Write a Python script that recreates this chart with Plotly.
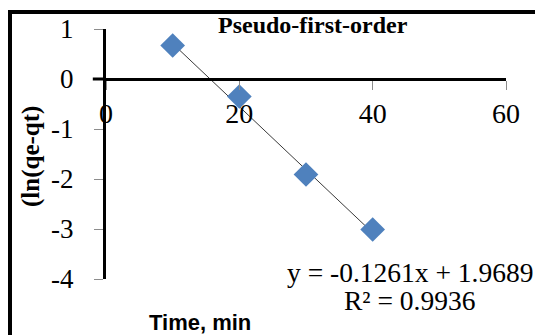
import plotly.graph_objects as go

# Kinetic data: time (min) vs ln(qe - qt)
time_min = [10, 20, 30, 40]
ln_qe_qt = [0.67, -0.35, -1.91, -3.01]

# Linear fit reported for the pseudo-first-order model
slope = -0.1261
intercept = 1.9689
r_squared = 0.9936
fit_x = [10, 40]

x_ticks = [0, 20, 40, 60]
x_tick_text = ["0", "20", "40", "60"]
y_ticks = [1, 0, -1, -2, -3, -4]
y_tick_text = ["1", "0", "-1", "-2", "-3", "-4"]

serif = "Liberation Serif"
sans = "Liberation Sans"

fig = go.Figure()

fig.add_trace(go.Scatter(
    x=fit_x,
    y=[slope * v + intercept for v in fit_x],
    mode="lines",
    line=dict(color="#3a3a3a", width=1),
    showlegend=False,
    hoverinfo="skip",
))

fig.add_trace(go.Scatter(
    x=time_min,
    y=ln_qe_qt,
    mode="markers",
    marker=dict(symbol="diamond", size=19, color="#4F81BD", line=dict(width=0)),
    showlegend=False,
))

fig.update_layout(
    width=535,
    height=335,
    margin=dict(l=106, r=29, t=29, b=56),
    paper_bgcolor="white",
    plot_bgcolor="white",
    xaxis=dict(
        range=[0, 60],
        tickvals=x_ticks,
        ticktext=x_tick_text,
        showgrid=False,
        zeroline=False,
        showline=True,
        linecolor="black",
        linewidth=3,
        anchor="free",
        position=0.8,
        ticks="outside",
        ticklen=9,
        tickcolor="#8c8c8c",
        tickwidth=1,
        ticklabelstandoff=-1,
        tickfont=dict(family=serif, size=28, color="black"),
    ),
    yaxis=dict(
        range=[-4, 1],
        tickvals=y_ticks,
        ticktext=y_tick_text,
        showgrid=False,
        zeroline=False,
        showline=True,
        linecolor="black",
        linewidth=3,
        ticks="outside",
        ticklen=9,
        tickcolor="#8c8c8c",
        tickwidth=1,
        ticklabelstandoff=15,
        tickfont=dict(family=serif, size=27, color="black"),
    ),
    shapes=[
        # outer chart frame
        dict(type="rect", xref="paper", yref="paper",
             x0=-0.24, x1=1.6, y0=-0.6, y1=1.068,
             line=dict(color="black", width=4), fillcolor="rgba(0,0,0,0)"),
        # horizontal axis running past the vertical axis
        dict(type="line", xref="paper", yref="y",
             x0=-0.033, x1=0, y0=0, y1=0,
             line=dict(color="black", width=3)),
    ],
    annotations=[
        dict(text="<b>Pseudo-first-order</b>", xref="paper", yref="paper",
             x=0.5175, y=1.016, xanchor="center", yanchor="middle", showarrow=False,
             font=dict(family=serif, size=24, color="black")),
        dict(text="<b>(ln(qe-qt)</b>", xref="paper", yref="paper",
             x=-0.1875, y=0.488, xanchor="center", yanchor="middle",
             textangle=-90, showarrow=False,
             font=dict(family=serif, size=25, color="black")),
        dict(text="<b>Time, min</b>", xref="paper", yref="paper",
             x=0.234, y=-0.116, xanchor="center", yanchor="top", showarrow=False,
             font=dict(family=sans, size=22, color="black")),
        dict(text=f"y = {slope:.4f}x + {intercept:.4f}", xref="paper", yref="paper",
             x=0.76, y=0.028, xanchor="center", yanchor="middle", showarrow=False,
             font=dict(family=serif, size=27.5, color="black")),
        dict(text=f"R² = {r_squared:.4f}", xref="paper", yref="paper",
             x=0.7575, y=-0.084, xanchor="center", yanchor="middle", showarrow=False,
             font=dict(family=serif, size=27.5, color="black")),
    ],
)

fig.write_html("out.html")
